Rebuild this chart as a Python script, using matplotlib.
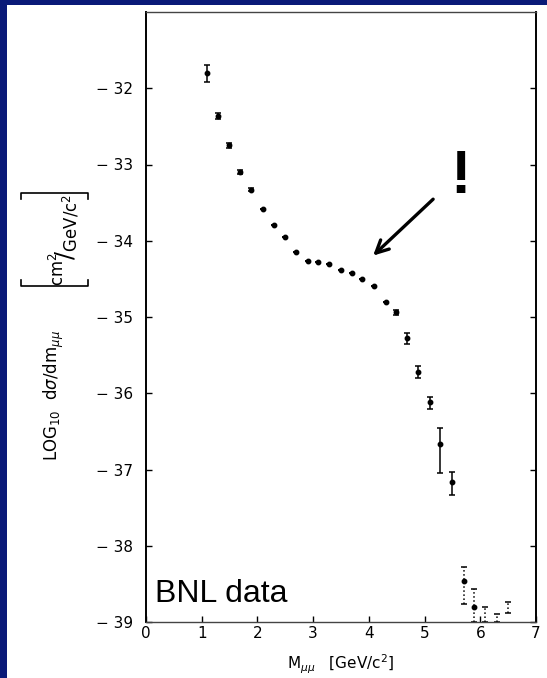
import numpy as np
import matplotlib.pyplot as plt
from matplotlib.patches import Rectangle
from matplotlib.lines import Line2D

# dimuon mass spectrum (BNL)
mass = [1.10, 1.29, 1.49, 1.69, 1.89, 2.10, 2.29, 2.49, 2.69, 2.90, 3.09, 3.29,
        3.50, 3.70, 3.88, 4.10, 4.30, 4.49, 4.68, 4.89, 5.09, 5.28, 5.49]
log_xsec = [-31.80, -32.36, -32.75, -33.10, -33.33, -33.59, -33.79, -33.95,
            -34.15, -34.26, -34.28, -34.31, -34.38, -34.42, -34.50, -34.59,
            -34.80, -34.94, -35.28, -35.72, -36.11, -36.66, -37.17]
err_up = [0.10, 0.04, 0.03, 0.03, 0.02, 0, 0, 0, 0, 0, 0, 0,
          0, 0, 0, 0, 0, 0.03, 0.07, 0.08, 0.06, 0.20, 0.14]
err_dn = [0.12, 0.04, 0.03, 0.03, 0.02, 0, 0, 0, 0, 0, 0, 0,
          0, 0, 0, 0, 0, 0.03, 0.08, 0.08, 0.09, 0.38, 0.17]

# low-statistics tail (dotted error bars)
tail_mass = [5.70, 5.89]
tail_xsec = [-38.46, -38.80]
tail_up = [0.18, 0.23]
tail_dn = [0.31, 0.20]

# bars with no central point
lim_mass = [6.09, 6.30, 6.49]
lim_top = [-38.80, -38.89, -38.74]
lim_bot = [-39.0, -39.0, -38.88]

navy = '#0a1a78'
W, H = 547, 678

fig = plt.figure(figsize=(W / 100, H / 100), dpi=100)
fig.patch.set_facecolor(navy)
# white slide panel
fig.patches.append(Rectangle((7 / W, 0), 1, 1 - 5 / H, transform=fig.transFigure,
                             facecolor='white', edgecolor='none', zorder=-10))

ax = fig.add_axes([146 / W, 56 / H, 390 / W, 610 / H])
ax.set_facecolor('white')

ax.errorbar(mass, log_xsec, yerr=[err_dn, err_up], fmt='o', color='black',
            ms=3.2, elinewidth=1.1, capsize=2.2, capthick=1.1)

eb = ax.errorbar(tail_mass, tail_xsec, yerr=[tail_dn, tail_up], fmt='o', color='black',
                 ms=3.2, elinewidth=1.1, capsize=2.2, capthick=1.1)
eb[2][0].set_linestyle(':')

lim_mid = [(t + b) / 2 for t, b in zip(lim_top, lim_bot)]
lim_half = [(t - b) / 2 for t, b in zip(lim_top, lim_bot)]
eb2 = ax.errorbar(lim_mass, lim_mid, yerr=lim_half, fmt='none', ecolor='black',
                  elinewidth=1.1, capsize=2.2, capthick=1.1)
eb2[2][0].set_linestyle(':')

ax.set_xlim(0, 7)
ax.set_ylim(-39, -31)
ax.set_xticks(range(0, 8))
ax.set_yticks(range(-39, -31))
ax.set_yticklabels(['\u2212 %d' % abs(v) for v in range(-39, -31)])
ax.tick_params(direction='in', length=4, width=1, labelsize=11, right=True)
ax.tick_params(axis='x', pad=3)
ax.tick_params(axis='y', pad=9)
for side in ['left', 'right']:
    ax.spines[side].set_linewidth(1.4)
for side in ['top', 'bottom']:
    ax.spines[side].set_linewidth(1.0)
    ax.spines[side].set_color('#444444')

ax.set_xlabel(r'M$_{\mu\mu}$   [GeV/c$^2$]', fontsize=11, labelpad=8)

# y label, rotated, built in two parts like the original scan
fig.text(54 / W, 1 - 395 / H, r'LOG$_{10}$  d$\sigma$/dm$_{\mu\mu}$', rotation=90,
         fontsize=12, ha='center', va='center')
fig.text(64 / W, 1 - 240 / H, r'${}^{\mathrm{cm}^2}\!\!/_{\mathrm{GeV/c}^2}$',
         rotation=90, fontsize=17, ha='center', va='center')
# square brackets around the unit
for yb, hook in [(286, -6), (193, 6)]:
    fig.add_artist(Line2D([21 / W, 21 / W, 88 / W, 88 / W],
                          [1 - (yb + hook) / H, 1 - yb / H, 1 - yb / H, 1 - (yb + hook) / H],
                          transform=fig.transFigure, color='black', lw=1.2))

ax.text(0.16, -38.74, 'BNL data', fontsize=23, family='Liberation Sans',
        ha='left', va='baseline')
ax.text(5.64, -33.38, '!', fontsize=44, family='Liberation Sans', weight='bold',
        ha='center', va='baseline')
ax.annotate('', xy=(4.04, -34.22), xytext=(5.19, -33.43),
            arrowprops=dict(arrowstyle='->,head_length=0.9,head_width=0.45',
                            color='black', lw=2.4))

fig.savefig('out.png', dpi=100, facecolor=fig.get_facecolor())
